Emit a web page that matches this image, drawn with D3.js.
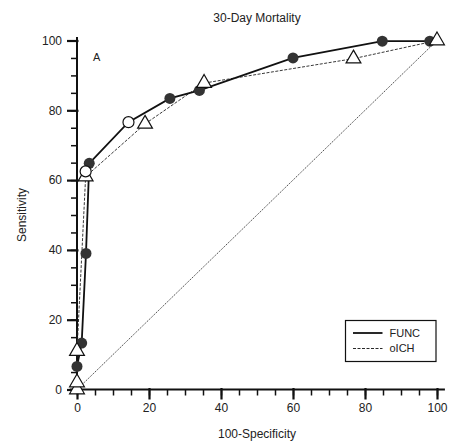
<!DOCTYPE html>
<html>
<head>
<meta charset="utf-8">
<script src="https://cdn.jsdelivr.net/npm/d3@7"></script>
<style>
  body { margin: 0; background: #fff; }
  text { font-family: "Liberation Sans", Arial, sans-serif; fill: #222; }
</style>
</head>
<body>
<svg id="svg" width="451" height="443"></svg>
<script>
// ROC points (100-specificity, sensitivity)
var funcX = [0, 1.3, 2.5, 3.4, 14.3, 25.8, 34, 60, 84.8, 98]
var funcY = [6.6, 13.3, 39, 64.8, 76.6, 83.4, 85.7, 95, 99.8, 99.8]
var ichX = [0, 0, 0, 2.4, 18.9, 35.3, 76.8, 100]
var ichY = [0, 2, 11, 61, 76.1, 87.8, 94.8, 100]
// open circles (cut-off points)
var cutX = [14.3, 2.4]
var cutY = [76.6, 62.5]
var majorTicks = [0, 20, 40, 60, 80, 100]
var minorTicks = d3.range(0, 101, 5)
var legendNames = ["FUNC", "oICH"]

let svg = d3.select("#svg");

let x = d3.scaleLinear().domain([0, 100]).range([77, 437]);
let y = d3.scaleLinear().domain([0, 100]).range([389.5, 40.5]);

let funcData = funcX.map((d, i) => ({ x: d, y: funcY[i] }));
let ichData = ichX.map((d, i) => ({ x: d, y: ichY[i] }));
let cutData = cutX.map((d, i) => ({ x: d, y: cutY[i] }));

// minor ticks
svg.append("g")
  .attr("transform", "translate(0," + y(0) + ")")
  .call(d3.axisBottom(x).tickValues(minorTicks).tickSize(6).tickFormat(""))
  .call(g => g.select(".domain").remove())
  .selectAll("line").attr("stroke", "#111").attr("stroke-width", 1.5);
svg.append("g")
  .attr("transform", "translate(" + x(0) + ",0)")
  .call(d3.axisLeft(y).tickValues(minorTicks).tickSize(6).tickFormat(""))
  .call(g => g.select(".domain").remove())
  .selectAll("line").attr("stroke", "#111").attr("stroke-width", 1.5);

// major ticks with labels
let xAxis = svg.append("g")
  .attr("transform", "translate(0," + y(0) + ")")
  .call(d3.axisBottom(x).tickValues(majorTicks).tickSize(10).tickPadding(4))
  .call(g => g.select(".domain").remove());
xAxis.selectAll("line").attr("stroke", "#111").attr("stroke-width", 2.2).attr("y1", -1.5);
xAxis.selectAll("text").attr("font-size", 12).attr("fill", "#222");

let yAxis = svg.append("g")
  .attr("transform", "translate(" + x(0) + ",0)")
  .call(d3.axisLeft(y).tickValues(majorTicks).tickSize(10).tickPadding(5))
  .call(g => g.select(".domain").remove());
yAxis.selectAll("line").attr("stroke", "#111").attr("stroke-width", 2.2).attr("x1", 1.5);
yAxis.selectAll("text").attr("font-size", 12).attr("fill", "#222");
svg.selectAll(".tick text").style("font-family", "'Liberation Sans', Arial, sans-serif");

// axis lines, a bit longer than the data range
svg.append("line")
  .attr("x1", x(-2)).attr("x2", x(102.2))
  .attr("y1", y(0)).attr("y2", y(0))
  .attr("stroke", "#111").attr("stroke-width", 2);
svg.append("line")
  .attr("x1", x(0)).attr("x2", x(0))
  .attr("y1", y(-1)).attr("y2", y(101))
  .attr("stroke", "#111").attr("stroke-width", 2);

// chance diagonal
svg.append("line")
  .attr("x1", x(0)).attr("y1", y(0))
  .attr("x2", x(100)).attr("y2", y(100))
  .attr("stroke", "#222").attr("stroke-width", 0.8)
  .attr("stroke-dasharray", "1.5,1");

let line = d3.line().x(d => x(d.x)).y(d => y(d.y));

svg.append("path").datum(ichData)
  .attr("d", line).attr("fill", "none")
  .attr("stroke", "#222").attr("stroke-width", 0.9)
  .attr("stroke-dasharray", "3,1.5");

svg.append("path").datum(funcData)
  .attr("d", line).attr("fill", "none")
  .attr("stroke", "#111").attr("stroke-width", 1.8);

// filled circles for FUNC
svg.selectAll(".func")
  .data(funcData.filter(d => !cutData.some(c => c.x == d.x && c.y == d.y)))
  .enter().append("circle")
  .attr("class", "func")
  .attr("cx", d => x(d.x)).attr("cy", d => y(d.y))
  .attr("r", 5.5).attr("fill", "#333");

// triangles for oICH
let tri = d3.symbol().type(d3.symbolTriangle).size(95);
svg.selectAll(".ich")
  .data(ichData)
  .enter().append("path")
  .attr("class", "ich")
  .attr("d", tri)
  .attr("transform", d => "translate(" + x(d.x) + "," + y(d.y) + ")")
  .attr("fill", "#fff").attr("stroke", "#111").attr("stroke-width", 1.2);

// open circles
svg.selectAll(".cut")
  .data(cutData)
  .enter().append("circle")
  .attr("class", "cut")
  .attr("cx", d => x(d.x)).attr("cy", d => y(d.y))
  .attr("r", 5.5).attr("fill", "#fff").attr("stroke", "#111").attr("stroke-width", 1.2);

// titles
svg.append("text")
  .attr("x", 257).attr("y", 22)
  .attr("text-anchor", "middle").attr("font-size", 12)
  .text("30-Day Mortality");
svg.append("text")
  .attr("x", 257).attr("y", 438)
  .attr("text-anchor", "middle").attr("font-size", 12)
  .text("100-Specificity");
svg.append("text")
  .attr("text-anchor", "middle").attr("font-size", 12)
  .attr("transform", "translate(26,215)rotate(-90)")
  .text("Sensitivity");
svg.append("text")
  .attr("x", 93).attr("y", 61).attr("font-size", 11)
  .text("A");

// legend
let legend = svg.append("g").attr("transform", "translate(345.5,320.5)");
legend.append("rect")
  .attr("width", 90.5).attr("height", 41)
  .attr("fill", "#fff").attr("stroke", "#111").attr("stroke-width", 1.2);
let item = legend.selectAll(".item")
  .data(legendNames)
  .enter().append("g")
  .attr("class", "item")
  .attr("transform", (d, i) => "translate(0," + (12.5 + i * 15.5) + ")");
item.append("line")
  .attr("x1", 7.5).attr("x2", 37)
  .attr("stroke", "#111")
  .attr("stroke-width", (d, i) => i == 0 ? 1.8 : 0.9)
  .attr("stroke-dasharray", (d, i) => i == 0 ? null : "3,1.5");
item.append("text")
  .attr("x", 44).attr("dy", "0.35em").attr("font-size", 11)
  .text(d => d);
</script>
</body>
</html>
